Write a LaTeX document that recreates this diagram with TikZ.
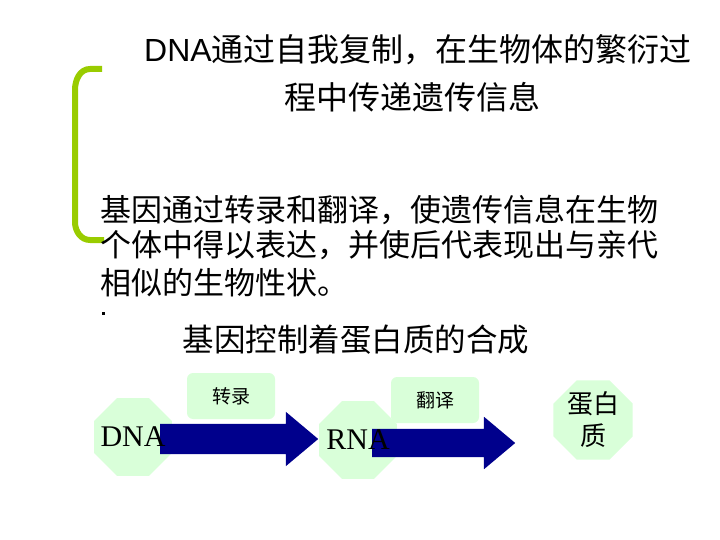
\documentclass[tikz,border=0pt]{standalone}
\usepackage{fontspec}
\setmainfont{Liberation Serif}
\newfontfamily\cjk{Noto Sans CJK SC}
\newfontfamily\arl{Liberation Sans}
\usetikzlibrary{shapes.geometric,shapes.arrows}
\definecolor{brk}{HTML}{99CC00}
\begin{document}
\begin{tikzpicture}[x=1pt,y=-1pt,
  oct/.style={regular polygon,regular polygon sides=8,fill=green!15!white,minimum size=84pt,inner sep=0pt,align=center},
  lab/.style={fill=green!15!white,rounded corners=6pt,minimum width=88pt,minimum height=46pt,font=\cjk\fontsize{19}{22}\selectfont},
  bigarrow/.style={single arrow,fill=blue!55!black,draw=none,minimum width=0pt,inner xsep=0pt,inner ysep=15pt,single arrow head extend=12pt,single arrow tip angle=80},
  txt/.style={font=\cjk\fontsize{32}{38}\selectfont,inner sep=0pt}]
\useasboundingbox (0,0) rectangle (720,540);
\draw[line width=6pt,color=brk] (102,69) -- (90,69) to[out=180,in=90] (75,90) -- (75,222) to[out=270,in=180] (90,240) -- (104,240);
\node[txt,anchor=center] (l1) at (418,50) {{\arl DNA}通过自我复制，在生物体的繁衍过};
\node[txt,anchor=center] (l2) at (412,97) {程中传递遗传信息};
\node[txt,anchor=west,font=\cjk\fontsize{31}{36}\selectfont] (p1) at (100,210) {基因通过转录和翻译，使遗传信息在生物};
\node[txt,anchor=west,font=\cjk\fontsize{31}{36}\selectfont] (p2) at (100,245) {个体中得以表达，并使后代表现出与亲代};
\node[txt,anchor=west,font=\cjk\fontsize{31}{36}\selectfont] (p3) at (100,283) {相似的生物性状。};
\fill (101.5,311.5) rectangle (104.5,314.5);
\node[txt,font=\cjk\fontsize{31.5}{36}\selectfont] (h) at (356,340) {基因控制着蛋白质的合成};
\node[oct] (dna) at (133,437) {};
\node[oct] (rna) at (358,440) {};
\node[oct,font=\cjk\fontsize{26}{32}\selectfont] (pro) at (593,420) {蛋白\\质};
\node[lab] (t1) at (231,396) {转录};
\node[lab] (t2) at (435,400) {翻译};
\node[bigarrow,anchor=west,minimum height=158pt] (ar1) at (160,439) {};
\node[bigarrow,anchor=west,minimum height=143pt,inner ysep=14pt] (ar2) at (372,443) {};
\node[font=\fontsize{30}{34}\selectfont,inner sep=0pt] at (dna) {DNA};
\node[font=\fontsize{30}{34}\selectfont,inner sep=0pt] at (rna) {RNA};
\end{tikzpicture}
\end{document}
